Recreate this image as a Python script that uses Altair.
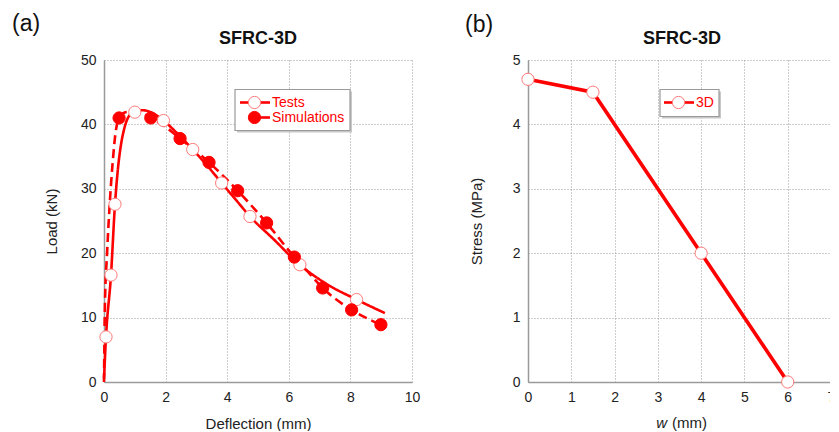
import altair as alt
import pandas as pd

FONT = "Liberation Sans"
RED = "#ff0000"
LIGHT_RED = "#ff7a7a"
BOX_GRAY = "#9a9a9a"

# ---------------- panel (a): load vs deflection ----------------
series_names = ["Tests", "Simulations"]

tests_marker_x = [0.065, 0.227, 0.357, 1.0, 1.93, 2.88, 3.82, 4.74, 6.36, 8.2]
tests_marker_y = [7.0, 16.6, 27.6, 41.9, 40.6, 36.1, 30.9, 25.7, 18.2, 12.8]

sim_marker_x = [0.49, 1.52, 2.47, 3.41, 4.34, 5.28, 6.18, 7.1, 8.04, 8.99]
sim_marker_y = [41.0, 41.0, 37.8, 34.1, 29.7, 24.7, 19.4, 14.6, 11.2, 8.9]

tests_curve_x = [0.0, 0.065, 0.227, 0.357, 0.45, 0.55, 0.65, 0.8, 1.0, 1.25, 1.6,
                 1.93, 2.4, 2.88, 3.35, 3.82, 4.28, 4.74, 5.5, 6.36, 7.2, 8.2, 9.12]
tests_curve_y = [0.5, 7.0, 16.6, 27.6, 33.0, 36.8, 39.2, 41.2, 42.0, 42.2, 41.7,
                 40.6, 38.5, 36.1, 33.6, 30.9, 28.3, 25.7, 22.2, 18.2, 15.3, 12.8, 10.7]

sim_curve_x = [0.0, 0.03, 0.1, 0.19, 0.28, 0.37, 0.49, 0.7, 1.0, 1.3, 1.52, 2.0,
               2.47, 3.41, 4.34, 5.28, 6.18, 6.6, 7.1, 8.04, 8.99]
sim_curve_y = [0.0, 12.0, 20.0, 28.0, 34.0, 38.5, 41.0, 41.9, 42.0, 41.6, 41.0, 39.6,
               37.8, 34.1, 29.7, 24.7, 19.4, 17.2, 14.6, 11.2, 8.9]

x_ticks_a = [0, 2, 4, 6, 8, 10]
y_ticks_a = [0, 10, 20, 30, 40, 50]

# ---------------- panel (b): stress vs crack opening ----------------
series_b = "3D"
w_values = [0.0, 1.5, 4.0, 6.0]
stress_values = [4.7, 4.5, 2.0, 0.0]
x_ticks_b = [0, 1, 2, 3, 4, 5, 6, 7]
y_ticks_b = [0, 1, 2, 3, 4, 5]

panel_title = "SFRC-3D"

# ---------------- tables ----------------
curves_a = pd.concat([
    pd.DataFrame({"x": tests_curve_x, "y": tests_curve_y, "series": "Tests"}),
    pd.DataFrame({"x": sim_curve_x, "y": sim_curve_y, "series": "Simulations"}),
])
markers_a = pd.concat([
    pd.DataFrame({"x": tests_marker_x, "y": tests_marker_y, "series": "Tests"}),
    pd.DataFrame({"x": sim_marker_x, "y": sim_marker_y, "series": "Simulations"}),
])
data_b = pd.DataFrame({"x": w_values, "y": stress_values, "series": series_b})

ONE = pd.DataFrame({"k": [0]})


def text_mark(txt, x, y, size, weight="normal", align="left", style="normal", color="#111"):
    return alt.Chart(pd.DataFrame({"t": [txt]})).mark_text(
        align=align, baseline="middle", fontSize=size, font=FONT, color=color,
        fontWeight=weight, fontStyle=style,
    ).encode(x=alt.value(x), y=alt.value(y), text="t:N")


def legend_box(x1, x2, y1, y2):
    shadow = alt.Chart(ONE).mark_rect(fill="#c8c8c8").encode(
        x=alt.value(x1 + 2), x2=alt.value(x2 + 2), y=alt.value(y1 + 2), y2=alt.value(y2 + 2))
    box = alt.Chart(ONE).mark_rect(fill="white", stroke=BOX_GRAY, strokeWidth=1.2).encode(
        x=alt.value(x1), x2=alt.value(x2), y=alt.value(y1), y2=alt.value(y2))
    return [shadow, box]


def legend_entry(label, x0, y, filled, dash=None):
    if dash:
        seg = alt.Chart(ONE).mark_rule(color=RED, strokeWidth=2.6, strokeDash=dash).encode(
            x=alt.value(x0 + 30), x2=alt.value(x0), y=alt.value(y))
    else:
        seg = alt.Chart(ONE).mark_rule(color=RED, strokeWidth=2.6).encode(
            x=alt.value(x0), x2=alt.value(x0 + 30), y=alt.value(y))
    dot = alt.Chart(ONE).mark_point(
        shape="circle", filled=True, size=150, opacity=1, strokeWidth=1,
        fill=RED if filled else "white", stroke=RED if filled else LIGHT_RED,
    ).encode(x=alt.value(x0 + 14.5), y=alt.value(y))
    txt = text_mark(label, x0 + 32, y, 14, color=RED)
    return [seg, dot, txt]


# ---- panel (a)
xa = alt.X("x:Q", scale=alt.Scale(domain=[0, 10], nice=False),
           axis=alt.Axis(values=x_ticks_a, title="Deflection (mm)", titlePadding=12))
ya = alt.Y("y:Q", scale=alt.Scale(domain=[0, 50], nice=False),
           axis=alt.Axis(values=y_ticks_a, title="Load (kN)", titlePadding=21))

lines_a = alt.Chart(curves_a).mark_line(
    color=RED, strokeWidth=2.6, interpolate="monotone"
).encode(
    x=xa, y=ya, detail="series:N",
    strokeDash=alt.StrokeDash("series:N", scale=alt.Scale(
        domain=series_names, range=[[1, 0], [9, 5]]), legend=None),
)
points_a = alt.Chart(markers_a).mark_point(
    shape="circle", filled=True, size=150, strokeWidth=1, opacity=1
).encode(
    x=xa, y=ya,
    fill=alt.Fill("series:N", scale=alt.Scale(domain=series_names, range=["white", RED]),
                  legend=None),
    stroke=alt.Stroke("series:N", scale=alt.Scale(domain=series_names, range=[LIGHT_RED, RED]),
                      legend=None),
)
panel_a = alt.layer(
    lines_a, points_a,
    *legend_box(131, 246, 29.5, 70.5),
    *legend_entry(series_names[0], 136, 42.5, filled=False),
    *legend_entry(series_names[1], 136, 57.5, filled=True, dash=[16, 14]),
    text_mark("(a)", -92, -36, 23),
    text_mark(panel_title, 154, -21.5, 18, weight="bold", align="center"),
).properties(width=308, height=322)

# ---- panel (b)
xb = alt.X("x:Q", scale=alt.Scale(domain=[0, 7], nice=False),
           axis=alt.Axis(values=x_ticks_b, title=None))
yb = alt.Y("y:Q", scale=alt.Scale(domain=[0, 5], nice=False),
           axis=alt.Axis(values=y_ticks_b, title="Stress (MPa)", titlePadding=28))

line_b = alt.Chart(data_b).mark_line(color=RED, strokeWidth=3.6).encode(x=xb, y=yb)
points_b = alt.Chart(data_b).mark_point(
    shape="circle", filled=True, size=150, strokeWidth=1, opacity=1,
    stroke=LIGHT_RED, fill="white"
).encode(x=xb, y=yb)

panel_b = alt.layer(
    line_b, points_b,
    *legend_box(132, 191, 29.5, 56.5),
    *legend_entry(series_b, 136, 42.5, filled=False),
    text_mark("w", 139, 362.5, 15, align="right", style="italic", color="#222"),
    text_mark("(mm)", 144, 362.5, 15, color="#222"),
    text_mark("(b)", -63, -35, 23),
    text_mark(panel_title, 154, -21.5, 18, weight="bold", align="center"),
).properties(width=303, height=322)

chart = alt.hconcat(panel_a, panel_b, spacing=45).properties(
    padding={"left": 4, "top": 5, "right": -5, "bottom": 0}
).configure_view(stroke=None).configure_axis(
    grid=True, gridColor="#9a9a9a", gridDash=[1, 2], gridWidth=1,
    domainColor="#9a9a9a", domainWidth=1.5, ticks=False, labelFlush=False,
    labelFont=FONT, labelFontSize=14, labelColor="#222", labelPadding=8,
    titleFont=FONT, titleFontSize=15, titleFontWeight="normal", titleColor="#222",
).configure_axisY(labelPadding=8)

chart.save("out.html", embed_options={"renderer": "svg", "actions": False})
